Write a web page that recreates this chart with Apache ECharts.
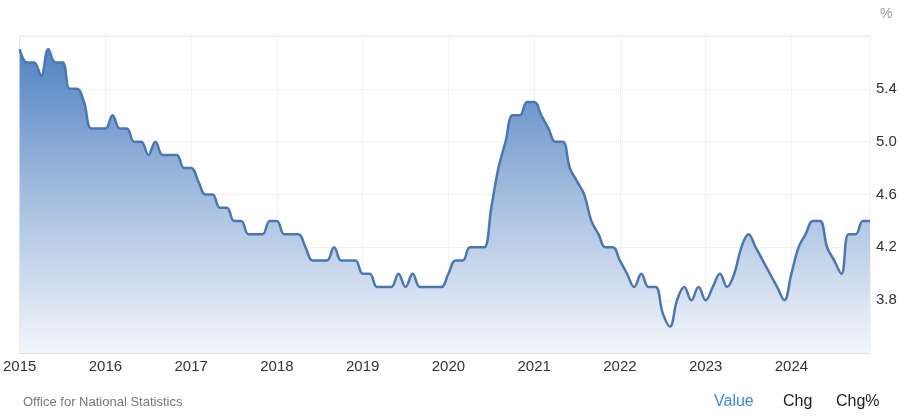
<!DOCTYPE html>
<html>
<head>
<meta charset="utf-8">
<script src="https://cdn.jsdelivr.net/npm/echarts@6/dist/echarts.min.js"></script>
<style>
  html, body { margin: 0; padding: 0; background: #fff; }
  #chart { width: 900px; height: 417px; }
</style>
</head>
<body>
<div id="chart"></div>
<script>
// monthly unemployment rate, Jan 2015 .. Dec 2024
var startYear = 2015;
var endYear = 2024;
var rates = [
  5.7, 5.6, 5.6, 5.5, 5.7, 5.6, 5.6, 5.4, 5.4, 5.3, 5.1, 5.1,
  5.1, 5.2, 5.1, 5.1, 5.0, 5.0, 4.9, 5.0, 4.9, 4.9, 4.9, 4.8,
  4.8, 4.7, 4.6, 4.6, 4.5, 4.5, 4.4, 4.4, 4.3, 4.3, 4.3, 4.4,
  4.4, 4.3, 4.3, 4.3, 4.2, 4.1, 4.1, 4.1, 4.2, 4.1, 4.1, 4.1,
  4.0, 4.0, 3.9, 3.9, 3.9, 4.0, 3.9, 4.0, 3.9, 3.9, 3.9, 3.9,
  4.0, 4.1, 4.1, 4.2, 4.2, 4.2, 4.5, 4.8, 5.0, 5.2, 5.2, 5.3,
  5.3, 5.2, 5.1, 5.0, 5.0, 4.8, 4.7, 4.6, 4.4, 4.3, 4.2, 4.2,
  4.1, 4.0, 3.9, 4.0, 3.9, 3.9, 3.7, 3.6, 3.8, 3.9, 3.8, 3.9,
  3.8, 3.9, 4.0, 3.9, 4.0, 4.2, 4.3, 4.2, 4.1, 4.0, 3.9, 3.8,
  4.0, 4.2, 4.3, 4.4, 4.4, 4.2, 4.1, 4.0, 4.3, 4.3, 4.4, 4.4
];
var yMin = 3.4, yMax = 5.8, yStep = 0.4;
var sourceText = 'Office for National Statistics';
var tabs = ['Value', 'Chg', 'Chg%'];

var months = [];
for (var y = startYear; y <= endYear; y++) {
  for (var m = 1; m <= 12; m++) {
    months.push(y + '-' + (m < 10 ? '0' + m : m));
  }
}

function isJan(idx) { return idx % 12 === 0; }

var font = 'Liberation Sans, Arial, sans-serif';
var gridLine = { color: '#e2e2e2', type: 'dotted', width: 1 };

var option = {
  animation: false,
  grid: {
    left: 18, right: 30, top: 36, bottom: 64,
    show: true, borderColor: '#ececec', borderWidth: 1,
    backgroundColor: 'transparent'
  },
  xAxis: {
    type: 'category',
    data: months,
    boundaryGap: false,
    axisLine: { lineStyle: { color: '#e0e0e0' } },
    axisTick: { show: false },
    axisLabel: {
      interval: function (idx) { return isJan(idx); },
      formatter: function (v) { return v.slice(0, 4); },
      color: '#333', fontSize: 15, margin: 6, fontFamily: font
    },
    splitLine: {
      show: true,
      interval: function (idx) { return isJan(idx); },
      lineStyle: gridLine
    }
  },
  yAxis: {
    type: 'value',
    position: 'right',
    min: yMin, max: yMax, interval: yStep,
    axisLine: { show: false },
    axisTick: { show: false },
    axisLabel: {
      showMinLabel: false, showMaxLabel: false,
      formatter: function (v) { return v.toFixed(1); },
      color: '#333', fontSize: 15, margin: 6, fontFamily: font
    },
    splitLine: { show: true, lineStyle: gridLine }
  },
  series: [{
    type: 'line',
    data: rates,
    smooth: 0.4,
    showSymbol: false,
    lineStyle: { color: '#4a77b2', width: 2.5 },
    areaStyle: {
      opacity: 1,
      color: {
        type: 'linear', x: 0, y: 0, x2: 0, y2: 1,
        colorStops: [
          { offset: 0, color: '#5383c3' },
          { offset: 0.5, color: '#a6bfe0' },
          { offset: 1, color: '#f3f6fb' }
        ]
      }
    }
  }],
  graphic: [
    { type: 'text', left: 880, top: 7,
      style: { text: '%', fill: '#999', fontSize: 14, fontFamily: font } },
    { type: 'text', left: 23, top: 396,
      style: { text: sourceText, fill: '#777', fontSize: 13, fontFamily: font } },
    { type: 'text', left: 714, top: 394,
      style: { text: tabs[0], fill: '#3b8bd6', fontSize: 16, fontFamily: font } },
    { type: 'text', left: 783, top: 394,
      style: { text: tabs[1], fill: '#222', fontSize: 16, fontFamily: font } },
    { type: 'text', left: 836, top: 394,
      style: { text: tabs[2], fill: '#222', fontSize: 16, fontFamily: font } }
  ]
};

var chart = echarts.init(document.getElementById('chart'));
chart.setOption(option);
</script>
</body>
</html>
